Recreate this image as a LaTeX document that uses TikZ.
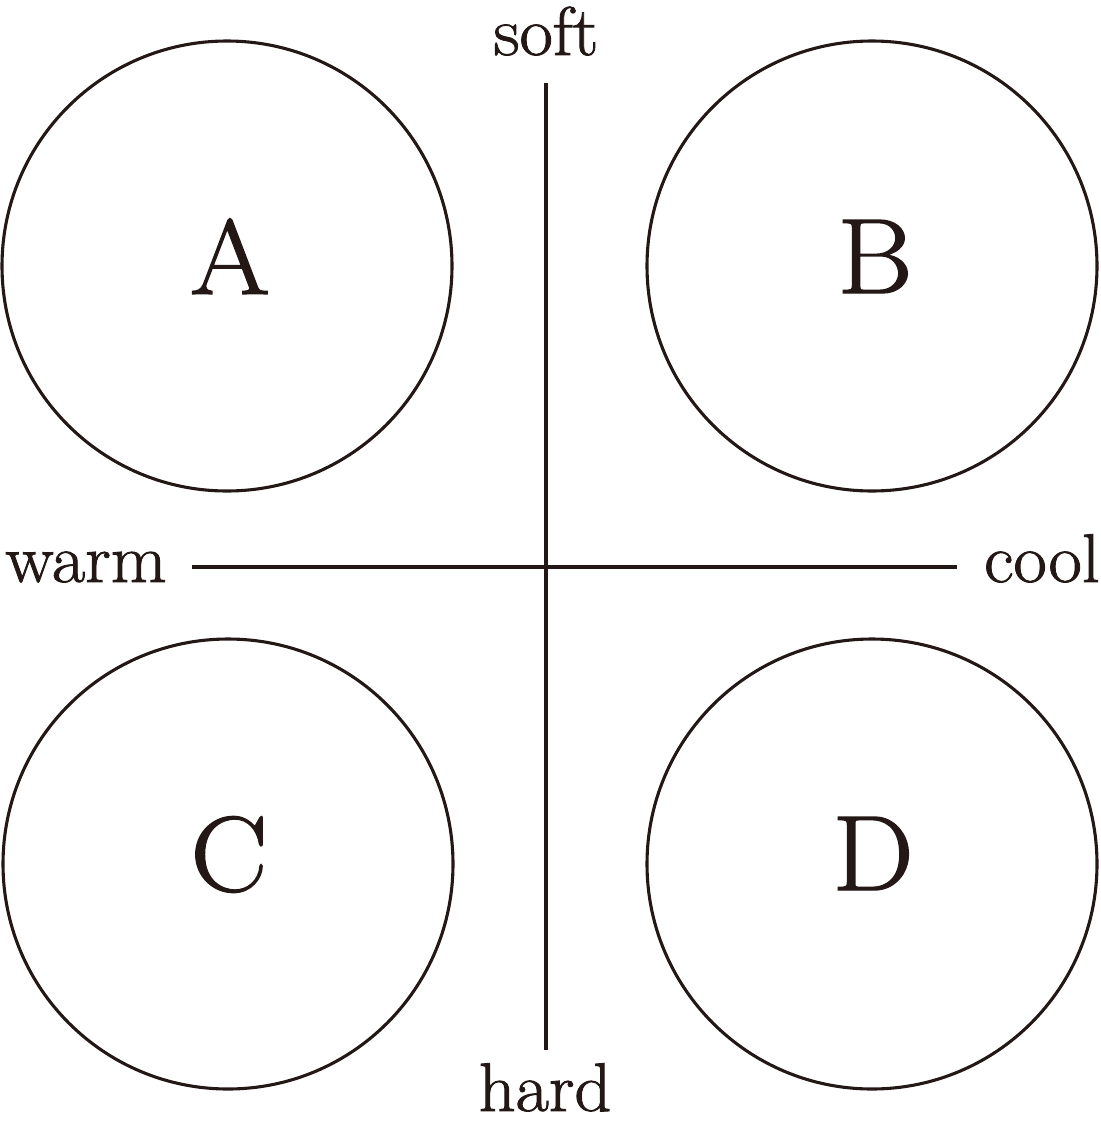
\documentclass[tikz,border=0pt]{standalone}
\usepackage{fontspec}
\newfontfamily\heavy{Latin Modern Roman}[FakeBold=1.2]
\definecolor{ink}{HTML}{231815}
\tikzset{
  ring/.style={circle, draw=ink, line width=2.2pt, minimum size=225*2*0.025cm, inner sep=0pt},
  bigletter/.style={text=ink, font=\heavy\fontsize{76}{82}\selectfont, anchor=base},
  axislabel/.style={text=ink, font=\heavy\fontsize{49}{55}\selectfont, anchor=base},
  axis/.style={draw=ink, line width=2.2pt}
}
\newcommand{\widen}[1]{\scalebox{1.08}[1]{#1}}
\newcommand{\widenb}[1]{\scalebox{1.05}[1]{#1}}
\begin{document}
\begin{tikzpicture}[x=0.025cm, y=-0.025cm]
\useasboundingbox (0,0) rectangle (1100,1131);
\node[ring] (cA) at (227,266) {};
\node[ring] (cB) at (872,266) {};
\node[ring] (cC) at (228,864) {};
\node[ring] (cD) at (872,864) {};
\node[bigletter] (lA) at (230,294) {\widen{A}};
\node[bigletter] (lB) at (875,293) {\widen{B}};
\node[bigletter] (lC) at (229,891) {\widen{C}};
\node[bigletter] (lD) at (873,890) {\widen{D}};
\coordinate (top) at (546,83);
\coordinate (bot) at (546,1050);
\coordinate (left) at (192,567);
\coordinate (right) at (957,567);
\draw[axis] (top) -- (bot);
\draw[axis] (left) -- (right);
\node[axislabel] (soft) at (546,55) {\widenb{soft}};
\node[axislabel] (hard) at (545,1111) {\widenb{hard}};
\node[axislabel] (warm) at (86,582) {\widenb{warm}};
\node[axislabel] (cool) at (1042,582) {\widenb{cool}};
\end{tikzpicture}
\end{document}
